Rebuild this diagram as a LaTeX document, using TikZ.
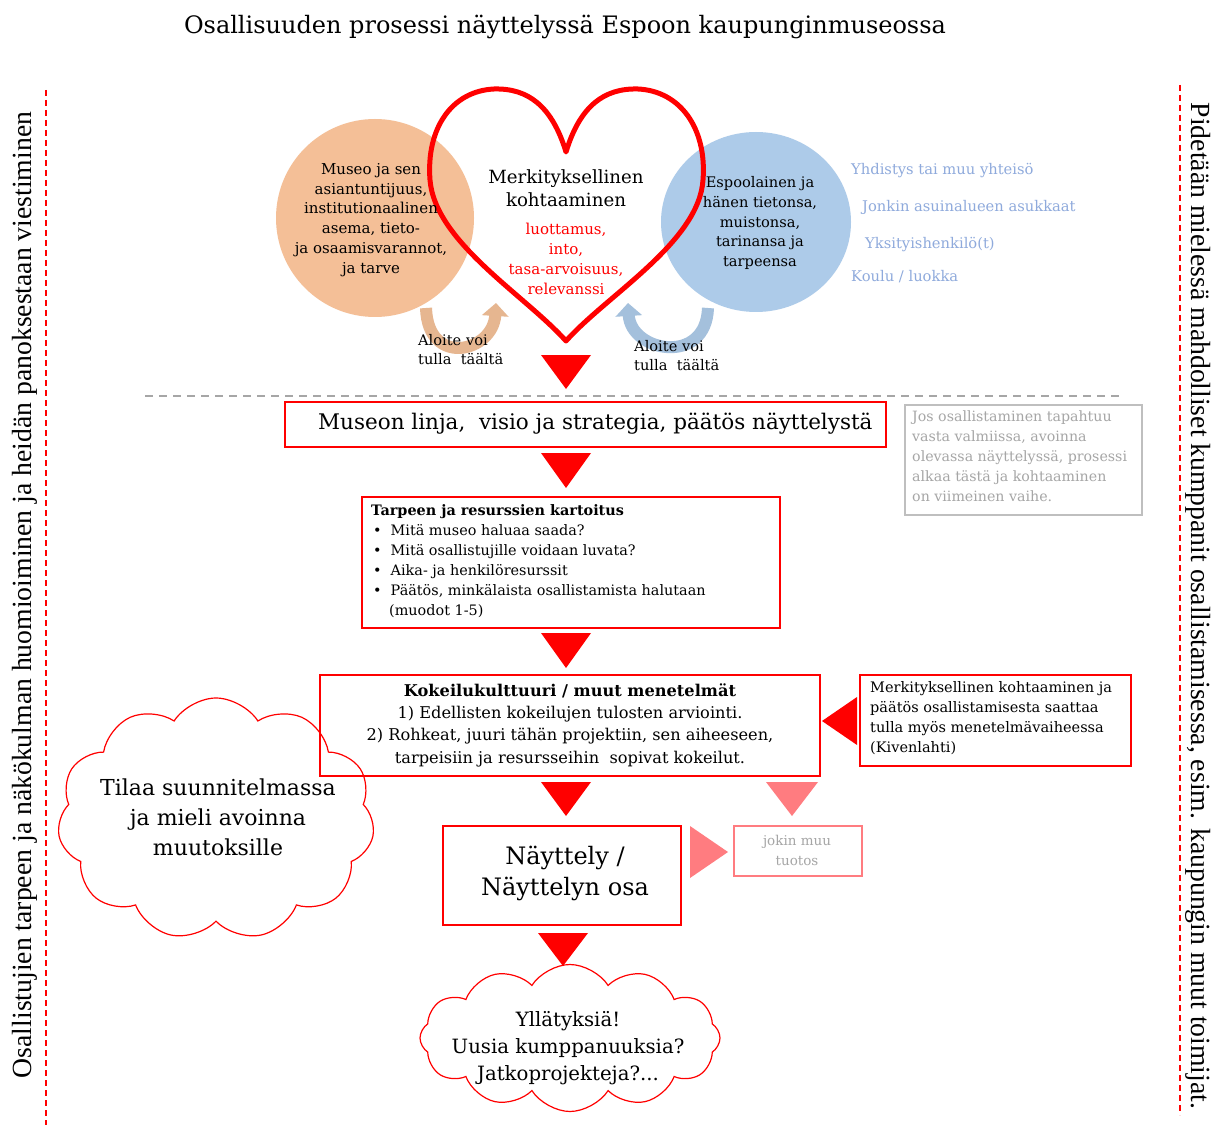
\documentclass[tikz,border=0pt]{standalone}
\usepackage{fontspec}
\setmainfont{DejaVu Serif}
\newfontfamily\timesf{Liberation Serif}
\usetikzlibrary{shapes.symbols,arrows.meta}
\definecolor{redc}{HTML}{FF0000}
\definecolor{pinkc}{HTML}{FF7C80}
\definecolor{orangec}{HTML}{F4BF97}
\definecolor{bluec}{HTML}{ADCBE9}
\definecolor{bluetxt}{HTML}{8FAADC}
\definecolor{graytxt}{HTML}{A6A6A6}
\definecolor{grayline}{HTML}{BFBFBF}
\definecolor{oarrow}{HTML}{E6B690}
\definecolor{barrow}{HTML}{A4C0DC}
\newcommand\fs[2]{\fontsize{#1}{#2}\selectfont}
\begin{document}
\begin{tikzpicture}[x=1pt,y=-1pt,
  redbox/.style={draw=redc, line width=1.5pt, inner sep=0pt},
  txt/.style={inner sep=0pt, align=center},
  cloudbox/.style={cloud, cloud ignores aspect, cloud puff arc=115, draw=redc, line width=1.2pt, inner sep=0pt},
  downtri/.style={fill=redc},
]
\useasboundingbox[fill=white] (0,0) rectangle (1212,1147);

% title
\node[txt, font=\fs{24}{28}] (title) at (565,27) {Osallisuuden prosessi näyttelyssä Espoon kaupunginmuseossa};

% side dashed lines
\coordinate (lt) at (46,90); \coordinate (lb) at (46,1125);
\coordinate (rt) at (1180,85); \coordinate (rb) at (1180,1115);
\draw[redc, line width=1.5pt, dash pattern=on 6pt off 4pt] (lt) -- (lb);
\draw[redc, line width=1.5pt, dash pattern=on 6pt off 4pt] (rt) -- (rb);
\node[txt, rotate=90, font=\timesf\fs{27.7}{32}] (lefttext) at (25,595) {Osallistujien tarpeen ja näkökulman huomioiminen ja heidän panoksestaan viestiminen};
\node[txt, rotate=-90, font=\timesf\fs{27.7}{32}] (righttext) at (1198,606) {Pidetään mielessä mahdolliset kumppanit osallistamisessa, esim. kaupungin muut toimijat.};

% gray dashed horizontal
\coordinate (gl) at (145,396); \coordinate (gr) at (1120,396);
\draw[graytxt, line width=1.2pt, dash pattern=on 8pt off 6pt] (gl) -- (gr);

% circles
\fill[orangec] (375,218) circle (99);
\fill[bluec] (756,222) ellipse (95 and 90);

% heart
\draw[redc, line width=5pt, line join=round]
  (566,152) .. controls (552,106) and (528,88) .. (494,89)
  .. controls (452,91) and (426,128) .. (430,180)
  .. controls (435,242) and (525,295) .. (566,341)
  .. controls (607,295) and (699,242) .. (703,180)
  .. controls (707,128) and (680,91) .. (638,89)
  .. controls (604,88) and (580,106) .. (566,152) -- cycle;

% circle texts
\node[txt, font=\fs{15}{19.8}] (museo) at (371,220) {Museo ja sen\\asiantuntijuus,\\institutionaalinen\\asema, tieto-\\ja osaamisvarannot,\\ja tarve};
\node[txt, font=\fs{18.2}{23}] (merk) at (566,188) {Merkityksellinen\\kohtaaminen};
\node[txt, font=\fs{15}{20}, text=redc] (arvot) at (566,259) {luottamus,\\into,\\tasa-arvoisuus,\\relevanssi};
\node[txt, font=\fs{14.6}{19.8}] (espoo) at (760,223) {Espoolainen ja\\hänen tietonsa,\\muistonsa,\\tarinansa ja\\tarpeensa};

% blue list
\node[inner sep=0pt, anchor=west, font=\fs{14.7}{17}, text=bluetxt] (l1) at (851,171) {Yhdistys tai muu yhteisö};
\node[inner sep=0pt, anchor=west, font=\fs{14.7}{17}, text=bluetxt] (l2) at (862,207) {Jonkin asuinalueen asukkaat};
\node[inner sep=0pt, anchor=west, font=\fs{14.7}{17}, text=bluetxt] (l3) at (865,245) {Yksityishenkilö(t)};
\node[inner sep=0pt, anchor=west, font=\fs{14.7}{17}, text=bluetxt] (l4) at (851,277) {Koulu / luokka};

% curved arrows
\coordinate (oa1) at (426,308); \coordinate (oa2) at (496,303);
\draw[oarrow, line width=12pt, -{Triangle[width=26pt,length=13pt]}] (oa1) .. controls (428,368) and (493,352) .. (oa2);
\coordinate (ba1) at (708,308); \coordinate (ba2) at (628,303);
\draw[barrow, line width=12pt, -{Triangle[width=26pt,length=13pt]}] (ba1) .. controls (706,366) and (631,352) .. (ba2);
\node[inner sep=0pt, anchor=west, align=left, font=\fs{14.6}{19}] (al1) at (418,350) {Aloite voi\\tulla~ täältä};
\node[inner sep=0pt, anchor=west, align=left, font=\fs{14.6}{19}] (al2) at (634,356) {Aloite voi\\tulla~ täältä};

% triangles
\fill[downtri] (541,355) -- (591,355) -- (566,389) -- cycle;
\fill[downtri] (541,453) -- (591,453) -- (566,488) -- cycle;
\fill[downtri] (541,633) -- (591,633) -- (566,668) -- cycle;
\fill[downtri] (541,782) -- (591,782) -- (566,816) -- cycle;
\fill[fill=pinkc] (766,782) -- (818,782) -- (792,816) -- cycle;
\fill[downtri] (538,933) -- (588,933) -- (563,966) -- cycle;
\fill[downtri] (857,697) -- (857,745) -- (822,721) -- cycle;
\fill[fill=pinkc] (690,826) -- (690,878) -- (728,852) -- cycle;

% box 1
\node[redbox, minimum width=601pt, minimum height=45pt] (b1) at (585.5,424.5) {};
\node[inner sep=0pt, anchor=west, font=\fs{21.5}{25}] (b1t) at (318,424) {Museon linja,~ visio ja strategia, päätös näyttelystä};

% gray note
\node[draw=grayline, line width=1.2pt, minimum width=237pt, minimum height=110pt, inner sep=0pt] (note) at (1023.5,460) {};
\node[inner sep=0pt, anchor=north west, align=left, font=\fs{14.2}{19.8}, text=graytxt] (notet) at (912,411) {Jos osallistaminen tapahtuu\\vasta valmiissa, avoinna\\olevassa näyttelyssä, prosessi\\alkaa tästä ja kohtaaminen\\on viimeinen vaihe.};

% box 2
\node[redbox, minimum width=418pt, minimum height=131pt] (b2) at (571,562.5) {};
\node[inner sep=0pt, anchor=north west, align=left, font=\fs{14.4}{20}] (b2t) at (371,504) {\textbf{Tarpeen ja resurssien kartoitus}\\
\hspace*{2pt}•\hspace{9pt}Mitä museo haluaa saada?\\
\hspace*{2pt}•\hspace{9pt}Mitä osallistujille voidaan luvata?\\
\hspace*{2pt}•\hspace{9pt}Aika- ja henkilöresurssit\\
\hspace*{2pt}•\hspace{9pt}Päätös, minkälaista osallistamista halutaan\\
\hspace*{18pt}(muodot 1-5)};

% box 3
\node[redbox, minimum width=500pt, minimum height=101pt] (b3) at (570,725.5) {};
\node[txt, font=\fs{16.2}{22.3}] (b3t) at (570,725) {\textbf{Kokeilukulttuuri / muut menetelmät}\\1) Edellisten kokeilujen tulosten arviointi.\\2) Rohkeat, juuri tähän projektiin, sen aiheeseen,\\tarpeisiin ja resursseihin~ sopivat kokeilut.};

% right box
\node[redbox, minimum width=271pt, minimum height=91pt] (rb) at (995.5,720.5) {};
\node[inner sep=0pt, anchor=north west, align=left, font=\fs{14.5}{20}] (rbt) at (870,681) {Merkityksellinen kohtaaminen ja\\päätös osallistamisesta saattaa\\tulla myös menetelmävaiheessa\\(Kivenlahti)};

% box 4
\node[redbox, minimum width=238pt, minimum height=99pt] (b4) at (562,875.5) {};
\node[txt, font=\fs{24}{31}] (b4t) at (565,873) {Näyttely /\\Näyttelyn osa};

% pink box
\node[draw=pinkc, line width=1.2pt, minimum width=128pt, minimum height=50pt, inner sep=0pt] (pb) at (798,851) {};
\node[txt, font=\fs{13.5}{20}, text=graytxt] (pbt) at (797,850) {jokin muu\\tuotos};

% clouds
\node[cloudbox, cloud puffs=11, minimum width=317pt, minimum height=242pt] (c1) at (216,819) {};
\node[txt, font=\fs{22}{30}] (c1t) at (218,817) {Tilaa suunnitelmassa\\ja mieli avoinna\\muutoksille};
\node[cloudbox, cloud puffs=12, minimum width=300pt, minimum height=147pt] (c2) at (570,1038) {};
\node[txt, font=\fs{19.7}{27}] (c2t) at (568,1048) {Yllätyksiä!\\Uusia kumppanuuksia?\\Jatkoprojekteja?...};
\end{tikzpicture}
\end{document}
